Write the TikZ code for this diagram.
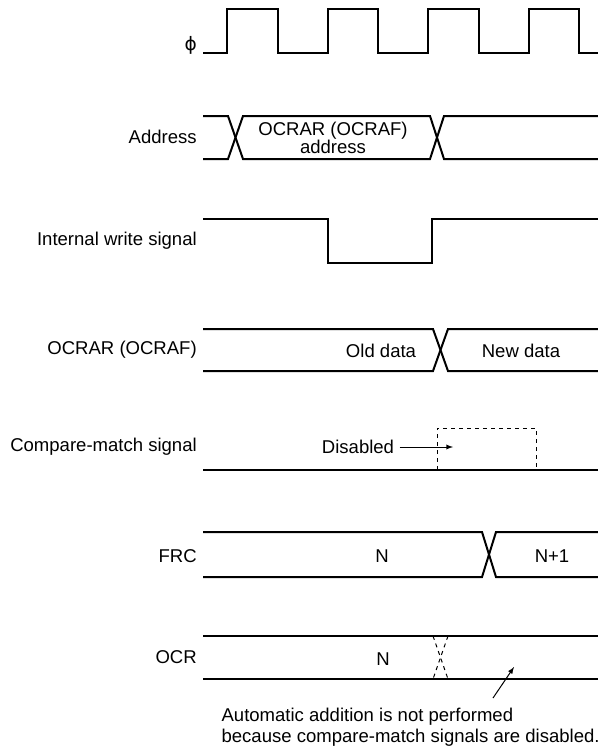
\documentclass[tikz,border=0pt]{standalone}
\usepackage{fontspec}
\setmainfont{Liberation Sans}
\newfontfamily\greekfont{DejaVu Sans}
\usetikzlibrary{arrows}

\begin{document}
\begin{tikzpicture}[x=0.75pt, y=-0.75pt, font=\fontsize{13.9}{16}\selectfont]
  % Styles
  \tikzstyle{sig}=[line width=1.5pt, line join=miter]
  \tikzstyle{off}=[dashed, line width=0.75pt]
  \tikzstyle{signame}=[anchor=east, inner sep=0pt]
  \tikzstyle{val}=[inner sep=1pt]
  \tikzstyle{arrow}=[-latex, line width=0.75pt]

  \useasboundingbox (0,0) rectangle (598,749);

  % Signal names
  \node[signame] (phi) at (197,45) {{\greekfont ϕ}};
  \node[signame] (adr) at (197,137) {Address};
  \node[signame] (iws) at (197,241) {Internal write signal};
  \node[signame] (ocr1) at (197,350) {OCRAR (OCRAF)};
  \node[signame] (cmp) at (197,447) {Compare-match signal};
  \node[signame] (frc) at (197,556) {FRC};
  \node[signame] (ocr2) at (197,657) {OCR};

  % Clock
  \draw[sig] (203,53) -| (227,9) -| (278,53) -| (327.5,9) -| (378,53)
    -| (428,9) -| (479,53) -| (528.5,9) -| (579,53) -- (598,53);

  % Address
  \draw[sig] (203,116) -- (228,116) -- (243,159) -- (430,159) -- (444,116) -- (598,116);
  \draw[sig] (203,159) -- (228,159) -- (243,116) -- (430,116) -- (444,159) -- (598,159);
  \node[val, align=center] (adrval) at (333,138) {OCRAR (OCRAF)\\[-2pt]address};

  % Internal write signal
  \draw[sig] (203,219) -| (328,263) -| (432,219) -- (598,219);

  % OCRAR (OCRAF)
  \draw[sig] (203,329) -- (433,329) -- (448,371) -- (598,371);
  \draw[sig] (203,371) -- (433,371) -- (448,329) -- (598,329);
  \node[val] (old) at (381,351) {Old data};
  \node[val] (new) at (521,351) {New data};

  % Compare-match signal
  \draw[sig] (203,470) -- (598,470);
  \draw[off] (437,470) |- (536,428) -- (536,470);
  \node[val] (dis) at (358,447) {Disabled};
  \coordinate (distip) at (453,447);
  \draw[arrow] (dis.east) ++(4,0) -- (distip);

  % FRC
  \draw[sig] (203,532) -- (482,532) -- (496,577) -- (598,577);
  \draw[sig] (203,577) -- (482,577) -- (496,532) -- (598,532);
  \node[val] (n1) at (382,556) {N};
  \node[val] (n2) at (552,556) {N+1};

  % OCR
  \draw[sig] (203,636) -- (598,636);
  \draw[sig] (203,679) -- (598,679);
  \draw[off] (433,636) -- (448,679);
  \draw[off] (448,636) -- (433,679);
  \node[val] (n3) at (383,659) {N};

  % Note
  \node[val, anchor=north west, align=left] (note) at (220,706)
    {Automatic addition is not performed\\because compare-match signals are disabled.};
  \coordinate (notetail) at (493,698);
  \coordinate (notetip) at (514,667);
  \draw[arrow] (notetail) -- (notetip);
\end{tikzpicture}
\end{document}
